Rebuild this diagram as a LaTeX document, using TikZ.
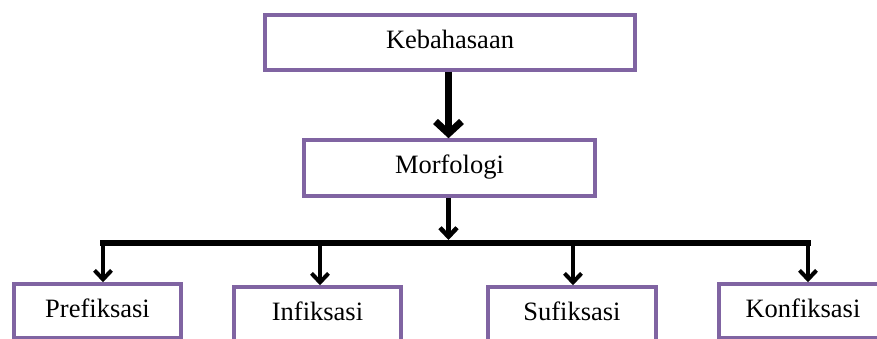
\documentclass[tikz,border=0pt]{standalone}
\usepackage{fontspec}
\setmainfont{Liberation Serif}
\usetikzlibrary{arrows.meta}
\definecolor{boxpurple}{HTML}{8064A2}
\tikzset{
  box/.style={draw=boxpurple, line width=3.5pt, fill=white, rectangle,
    inner sep=0pt, text height=18pt, text depth=6pt,
    font=\fontsize{26.5}{30}\selectfont},
  bigarrow/.style={line width=7pt, -{Straight Barb[length=12pt,width=26pt]}},
  midarrow/.style={line width=4.5pt, -{Straight Barb[length=9pt,width=17pt]}},
  droparrow/.style={line width=4pt, -{Straight Barb[length=9pt,width=17pt]}},
  barline/.style={line width=6pt, line cap=rect}
}
\begin{document}
\begin{tikzpicture}[x=1pt,y=-1pt]
\useasboundingbox (0,0) rectangle (877,339);
\clip (0,0) rectangle (877,339);
\node[box, minimum width=370pt, minimum height=55pt] (keb) at (450,42.5) {Kebahasaan};
\node[box, minimum width=291pt, minimum height=56pt] (morf) at (449.5,168) {Morfologi};
\node[box, minimum width=167pt, minimum height=54pt] (pre) at (97.5,311) {Prefiksasi};
\node[box, minimum width=167pt, minimum height=54pt] (inf) at (317.5,314) {Infiksasi};
\node[box, minimum width=168pt, minimum height=54pt] (suf) at (572,314) {Sufiksasi};
\node[box, minimum width=168pt, minimum height=54pt] (kon) at (803,311) {Konfiksasi};
\coordinate (c1) at (103,243);
\coordinate (c2) at (320,243);
\coordinate (cm) at (448.5,243);
\coordinate (c3) at (573,243);
\coordinate (c4) at (808,243);
\draw[bigarrow] (keb.south -| cm) -- (morf.north -| cm);
\draw[midarrow, shorten >=3pt] (morf.south -| cm) -- (cm);
\draw[barline] (c1) -- (c4);
\draw[droparrow] (c1) -- (c1 |- pre.north);
\draw[droparrow] (c2) -- (c2 |- inf.north);
\draw[droparrow] (c3) -- (c3 |- suf.north);
\draw[droparrow] (c4) -- (c4 |- kon.north);
\end{tikzpicture}
\end{document}
